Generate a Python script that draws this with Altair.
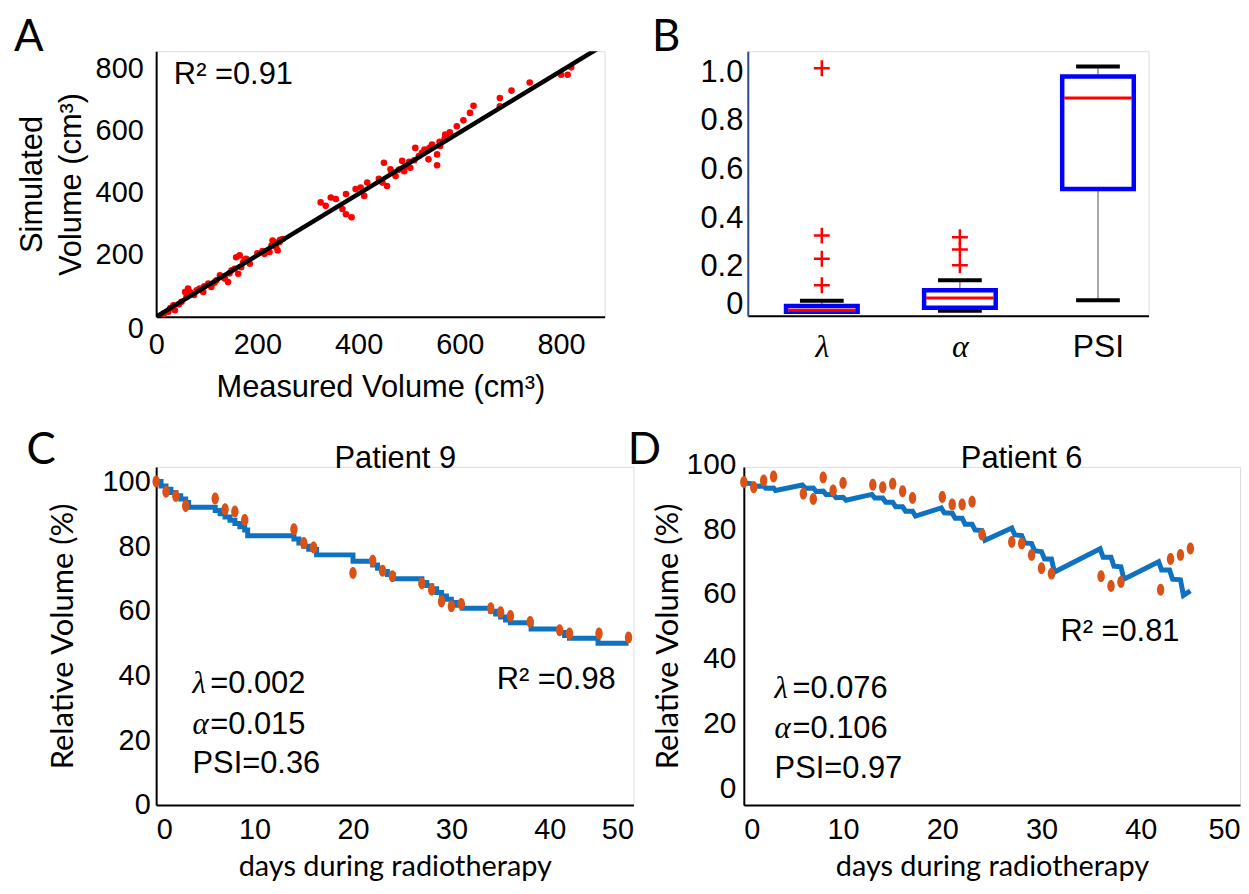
import altair as alt
import pandas as pd

# ---------------- Panel A data ----------------
A_measured = [15, 24, 28, 34, 37, 45, 50, 57, 60, 63, 67, 75, 80, 86, 93, 95, 103, 109, 115, 119,
              126, 130, 136, 142, 145, 149, 155, 158, 162, 165, 168, 172, 175, 178, 185,
              200, 210, 214, 224, 228, 230, 235, 237, 240, 244, 245, 250,
              325, 335, 345, 355, 368, 375, 375, 386, 394, 404, 411, 417,
              440, 447, 450, 456, 463, 465, 473, 480, 486, 490, 493, 500, 502, 510, 512, 519,
              525, 530, 538, 540, 545, 555, 555, 560, 561, 570, 571, 580, 581,
              594, 607, 620, 627, 679, 679, 702, 738, 800, 813, 820]
A_simulated = [10, 16, 28, 37, 21, 40, 48, 80, 64, 91, 80, 70, 85, 91, 80, 98, 107, 96, 110, 118,
               134, 128, 123, 112, 140, 150, 155, 192, 139, 198, 160, 176, 185, 187, 171,
               205, 212, 203, 209, 230, 246, 240, 225, 214, 241, 248, 251,
               369, 358, 385, 380, 348, 331, 396, 321, 412, 417, 390, 433,
               445, 433, 497, 422, 476, 465, 454, 475, 503, 470, 487, 500, 481, 505, 545, 519,
               529, 540, 508, 545, 556, 524, 489, 565, 551, 575, 588, 595, 588,
               615, 634, 658, 681, 706, 679, 730, 756, 781, 781, 805]
A_fit_measured = [0, 880]
A_fit_simulated = [0, 873]
A_ticks = [0, 200, 400, 600, 800]

# ---------------- Panel B data ----------------
B_params = ["λ", "α", "PSI"]
B_pos = [1, 2, 3]
B_q1 = [0.016, 0.033, 0.520]
B_median = [0.023, 0.073, 0.894]
B_q3 = [0.040, 0.105, 0.982]
B_whisker_lo = [0.016, 0.020, 0.064]
B_whisker_hi = [0.062, 0.146, 1.023]
B_out_pos = [1, 1, 1, 1, 2, 2, 2]
B_out_value = [1.016, 0.329, 0.234, 0.125, 0.322, 0.272, 0.207]
B_ticks = [0, 0.2, 0.4, 0.6, 0.8, 1.0]

# ---------------- Panel C data (Patient 9) ----------------
C_days = [0, 1, 2, 3, 6, 7, 8, 9, 14, 15, 16, 20, 22, 23, 24, 27, 28, 29, 30, 31,
          34, 35, 36, 38, 41, 42, 45, 48]
C_measured = [100.0, 96.8, 95.5, 92.4, 94.7, 91.4, 90.7, 88.1, 85.2, 81.0, 79.6, 71.7, 75.5,
              72.4, 70.7, 68.5, 66.5, 62.9, 61.4, 62.1, 60.8, 59.6, 58.4, 56.6, 54.0, 53.0,
              53.0, 51.8]
C_model_days = [0, 0.5, 1, 1.5, 2, 2.5, 3, 3.3, 6, 6.5, 7, 7.5, 8, 8.5, 9, 9.3, 14, 14.5,
                15, 15.5, 16.3, 20, 22, 22.5, 23, 23.5, 24.1, 27, 27.5, 28, 28.5, 29, 29.5,
                30, 30.5, 31.1, 34, 34.5, 35, 35.5, 36, 38.1, 41, 41.5, 42, 44.9, 48.0]
C_model = [100, 98.6, 97.6, 96.6, 95.6, 94.6, 93.5, 92.0, 91.0, 90.0, 89.0, 88.0, 87.0,
           86.0, 85.0, 83.2, 82.2, 81.0, 80.0, 79.0, 77.3, 75.3, 74.2, 73.2, 72.2, 71.2,
           69.9, 68.8, 67.8, 66.8, 65.7, 64.6, 63.6, 62.6, 61.7, 60.8, 59.9, 59.0, 58.1,
           57.2, 56.3, 54.4, 53.3, 52.4, 51.5, 50.0, 50.0]
C_x_ticks = [0, 10, 20, 30, 40, 48.5]
C_x_tick_labels = ["0", "10", "20", "30", "40", "50"]

# ---------------- Panel D data (Patient 6) ----------------
D_days = [0, 1, 2, 3, 6, 7, 8, 9, 10, 13, 14, 15, 16, 17, 20, 21, 22, 23, 24, 27, 28,
          29, 30, 31, 36, 37, 38, 42, 43, 44, 45]
D_measured = [99.8, 98.2, 100.3, 101.5, 96.2, 94.6, 101.2, 97.2, 99.5, 99.0, 98.2, 99.3,
              97.0, 94.9, 95.2, 92.9, 92.9, 93.7, 83.6, 81.3, 80.8, 77.3, 73.2, 71.5, 70.7,
              67.7, 68.9, 66.5, 76.0, 77.3, 79.3]
D_model_days = [0.0, 1.0, 1.2, 2.0, 2.2, 3.0, 3.2, 5.9, 6.2, 7.0, 7.3, 8.0, 8.3, 9.0, 9.3,
                10.0, 10.3, 12.9, 13.2, 14.0, 14.3, 15.0, 15.3, 16.0, 16.3, 17.0, 17.3,
                19.9, 20.2, 21.0, 21.3, 22.0, 22.3, 23.0, 23.3, 24.0, 24.3,
                27.0, 27.3, 28.0, 28.3, 29.0, 29.3, 30.0, 30.3, 31.0, 31.3,
                35.9, 36.2, 37.0, 37.3, 38.0, 38.3, 41.8, 42.1, 42.9, 43.2, 44.0, 44.3, 45.0]
D_model = [99.6, 99.2, 98.5, 98.6, 97.9, 98.0, 97.2, 98.9, 97.9, 98.0, 96.9, 97.0, 95.9,
           96.0, 95.0, 95.1, 94.2, 96.0, 94.9, 94.9, 93.6, 93.6, 92.2, 92.2, 90.8, 90.8,
           89.3, 91.8, 90.3, 90.2, 88.6, 88.6, 86.8, 86.8, 85.0, 84.8, 81.8,
           85.6, 83.5, 83.3, 81.0, 80.8, 78.6, 78.3, 76.0, 76.0, 72.0,
           79.2, 76.6, 76.6, 73.8, 73.6, 69.8, 75.2, 72.6, 72.6, 69.8, 69.6, 64.8, 66.2]

# ---------------- styles ----------------
ARIAL = "Liberation Sans"
CALIBRI = "Lato"
SERIF = "Liberation Serif"
BLUE_LINE = "#0f72c0"
ORANGE = "#d95319"
ELLIPSE = "M0,-1A0.62,1,0,1,1,0,1A0.62,1,0,1,1,0,-1Z"
CROSS = "M-1,0L1,0M0,-1L0,1"
LETTER_SIZE = 44


def letter_layer(xenc, yenc, xf, yf, t, xv, yv, align="left"):
    df = pd.DataFrame({xf: [xv], yf: [yv], "t": [t]})
    return alt.Chart(df).mark_text(align=align, baseline="alphabetic", font=CALIBRI,
                                   fontSize=LETTER_SIZE, color="black").encode(
        x=xenc, y=yenc, text="t:N")


# ================= Panel A =================
dfA = pd.DataFrame({"x": A_measured, "y": A_simulated})
dfA_fit = pd.DataFrame({"x": A_fit_measured, "y": A_fit_simulated})
dfA_txt = pd.DataFrame({"x": [35], "y": [780], "t": ["R² =0.91"]})

xA = alt.X("x:Q", scale=alt.Scale(domain=[0, 886], nice=False, zero=False),
           axis=alt.Axis(values=A_ticks, title="Measured Volume (cm³)", grid=False, ticks=False,
                         labelFont=ARIAL, labelFontSize=29, labelColor="black", labelPadding=14,
                         labelFlush=False, labelOverlap=False, domainColor="black", domainWidth=2,
                         titleFont=ARIAL, titleFontSize=31, titleFontWeight="normal",
                         titleColor="black", titlePadding=13))
yA = alt.Y("y:Q", scale=alt.Scale(domain=[0, 857], nice=False, zero=False),
           axis=alt.Axis(values=A_ticks, title=["Simulated", "Volume (cm³)"], grid=False,
                         ticks=False, labelFont=ARIAL, labelFontSize=29, labelColor="black",
                         labelPadding=13, labelOverlap=False,
                         labelOffset={"condition": {"test": "datum.value === 0", "value": 12},
                                      "value": 0},
                         domainColor="black", domainWidth=2,
                         titleFont=ARIAL, titleFontSize=31, titleFontWeight="normal",
                         titleColor="black", titlePadding=8, titleLineHeight=39))

A_pts = alt.Chart(dfA).mark_circle(color="#ff0000", opacity=1, size=44).encode(x=xA, y=yA)
A_fit = alt.Chart(dfA_fit).mark_line(color="black", strokeWidth=4.5, clip=True).encode(x=xA, y=yA)
A_txt = alt.Chart(dfA_txt).mark_text(align="left", baseline="middle", font=ARIAL, fontSize=31,
                                      color="black").encode(x=xA, y=yA, text="t:N")
A_let = letter_layer(xA, yA, "x", "y", "A", -281, 857)
panelA = alt.layer(A_pts, A_fit, A_txt, A_let).properties(width=451, height=267)

# ================= Panel B =================
dfB = pd.DataFrame({"pos": B_pos, "q1": B_q1, "med": B_median, "q3": B_q3,
                    "lo": B_whisker_lo, "hi": B_whisker_hi})
dfB_out = pd.DataFrame({"pos": B_out_pos, "v": B_out_value})
label_expr = " : ".join(f"datum.value == {p} ? '{n}'" for p, n in zip(B_pos[:-1], B_params[:-1])) \
    + f" : '{B_params[-1]}'"

axB_x = alt.Axis(values=B_pos, labelExpr=label_expr, title=None, grid=False, ticks=False,
                 labelFont={"condition": {"test": "datum.value < 3", "value": SERIF}, "value": ARIAL},
                 labelFontStyle={"condition": {"test": "datum.value < 3", "value": "italic"},
                                 "value": "normal"},
                 labelFontSize=32, labelColor="black", labelPadding=16, labelFlush=False,
                 labelOverlap=False, domainColor="black", domainWidth=2)
axB_y = alt.Axis(values=B_ticks, title=None, grid=False, ticks=False,
                 labelExpr="datum.value == 0 ? '0' : format(datum.value, '.1f')",
                 labelFont=ARIAL, labelFontSize=31, labelColor="black", labelPadding=5,
                 labelOverlap=False,
                 labelOffset={"condition": {"test": "datum.value === 0", "value": -11}, "value": 0},
                 domainColor="#2f4a8a", domainWidth=2)
scB_x = alt.Scale(domain=[0.5, 3.33], nice=False, zero=False)
scB_y = alt.Scale(domain=[0, 1.086], nice=False, zero=False)


def xB():
    return alt.X("pos:Q", scale=scB_x, axis=axB_x)


def yB(f):
    return alt.Y(f"{f}:Q", scale=scB_y, axis=axB_y)


B_whisk = alt.Chart(dfB).mark_rule(color="#8a8a8a", strokeWidth=1.5).encode(
    x=xB(), y=yB("lo"), y2="hi:Q")
B_cap_lo = alt.Chart(dfB).mark_tick(orient="horizontal", color="black", opacity=1, thickness=4,
                                    size=44).encode(x=xB(), y=yB("lo"))
B_cap_hi = alt.Chart(dfB).mark_tick(orient="horizontal", color="black", opacity=1, thickness=4,
                                    size=44).encode(x=xB(), y=yB("hi"))
B_box = alt.Chart(dfB).mark_bar(size=72, fill="white", stroke="#0000ff", strokeWidth=4.5,
                                opacity=1).encode(x=xB(), y=yB("q1"), y2="q3:Q")
B_med = alt.Chart(dfB).mark_tick(orient="horizontal", color="#ff0000", opacity=1, thickness=3,
                                 size=68).encode(x=xB(), y=yB("med"))
B_out = alt.Chart(dfB_out).mark_point(shape=CROSS, filled=False, color="#ff0000", strokeWidth=2.5,
                                      size=256, opacity=1).encode(x=xB(), y=yB("v"))
B_let = letter_layer(xB(), yB("v"), "pos", "v", "B", -0.23, 1.086)
panelB = alt.layer(B_whisk, B_cap_lo, B_cap_hi, B_box, B_med, B_out, B_let).properties(
    width=403, height=266)


# ================= Panels C and D =================
def patient_panel(days, measured, mdays, model, interp, xdomain, xvalues, xlabels, ylab_off,
                  width, texts, letter_spec, ypad, ylabsize, ytitlepad):
    dfp = pd.DataFrame({"x": days, "y": measured})
    dfm = pd.DataFrame({"x": mdays, "y": model})
    lab_expr = " : ".join(f"datum.value == {v} ? '{l}'" for v, l in zip(xvalues, xlabels)) + " : ''"
    xs = alt.X("x:Q", scale=alt.Scale(domain=xdomain, nice=False, zero=False),
               axis=alt.Axis(values=xvalues, labelExpr=lab_expr, title="days during radiotherapy",
                             grid=False, ticks=False, labelFont=ARIAL, labelFontSize=29,
                             labelColor="black", labelPadding=11, labelFlush=True,
                             labelOverlap=False, domainColor="black", domainWidth=2,
                             titleFont=CALIBRI, titleFontSize=29, titleFontWeight="normal",
                             titleColor="black", titlePadding=8))
    ys = alt.Y("y:Q", scale=alt.Scale(domain=[0, 104.5], nice=False, zero=False),
               axis=alt.Axis(values=[0, 20, 40, 60, 80, 100], title="Relative Volume (%)",
                             grid=False, ticks=False, labelFont=ARIAL, labelFontSize=ylabsize,
                             labelColor="black", labelPadding=ypad, labelOverlap=False,
                             labelOffset=ylab_off, domainColor="black", domainWidth=2,
                             titleFont=CALIBRI, titleFontSize=31, titleFontWeight="normal",
                             titleColor="black", titlePadding=ytitlepad))
    line = alt.Chart(dfm).mark_line(color=BLUE_LINE, strokeWidth=5, interpolate=interp).encode(x=xs, y=ys)
    pts = alt.Chart(dfp).mark_point(shape=ELLIPSE, filled=True, color=ORANGE, opacity=1,
                                    size=144).encode(x=xs, y=ys)
    layers = [line, pts]
    for (tx, ty, t, font, style, align) in texts:
        dft = pd.DataFrame({"x": [tx], "y": [ty], "t": [t]})
        layers.append(alt.Chart(dft).mark_text(align=align, baseline="middle", font=font,
                                               fontStyle=style, fontSize=31, color="black")
                      .encode(x=xs, y=ys, text="t:N"))
    lt, lx, ly, lalign = letter_spec
    layers.append(letter_layer(xs, ys, "x", "y", lt, lx, ly, lalign))
    return alt.layer(*layers).properties(width=width, height=340)


C_texts = [
    (24.3, 106.8, "Patient 9", ARIAL, "normal", "center"),
    (3.7, 37.4, "λ", SERIF, "italic", "left"),
    (5.5, 37.4, "=0.002", ARIAL, "normal", "left"),
    (3.7, 24.8, "α", SERIF, "italic", "left"),
    (5.5, 24.8, "=0.015", ARIAL, "normal", "left"),
    (3.7, 12.7, "PSI=0.36", ARIAL, "normal", "left"),
    (34.6, 38.5, "R² =0.98", ARIAL, "normal", "left"),
]
D_texts = [
    (28.0, 106.8, "Patient 6", ARIAL, "normal", "center"),
    (3.1, 35.8, "λ", SERIF, "italic", "left"),
    (4.9, 35.8, "=0.076", ARIAL, "normal", "left"),
    (3.1, 23.6, "α", SERIF, "italic", "left"),
    (4.9, 23.6, "=0.106", ARIAL, "normal", "left"),
    (3.1, 11.2, "PSI=0.97", ARIAL, "normal", "left"),
    (31.9, 53.6, "R² =0.81", ARIAL, "normal", "left"),
]

panelC = patient_panel(C_days, C_measured, C_model_days, C_model, "step-after", [0, 48.5],
                       C_x_ticks, C_x_tick_labels, 0, 480, C_texts,
                       (" C", -10.2, 105.4, "right"), 6, 29, 23)
panelD = patient_panel(D_days, D_measured, D_model_days, D_model, "linear", [0, 50],
                       [0, 10, 20, 30, 40, 50], ["0", "10", "20", "30", "40", "50"], -17, 499,
                       D_texts, ("D", -11.7, 105.4, "left"), 8, 30, 2)

row1 = alt.hconcat(panelA, panelB, spacing=46)
row2 = alt.hconcat(panelC, panelD, spacing=-13)
chart = alt.vconcat(row1, row2, spacing=25).configure_view(strokeWidth=0).configure(
    background="white", padding={"left": 5, "top": 5, "right": 0, "bottom": 0})

chart.save("out.html", embed_options={"renderer": "svg", "actions": False})
